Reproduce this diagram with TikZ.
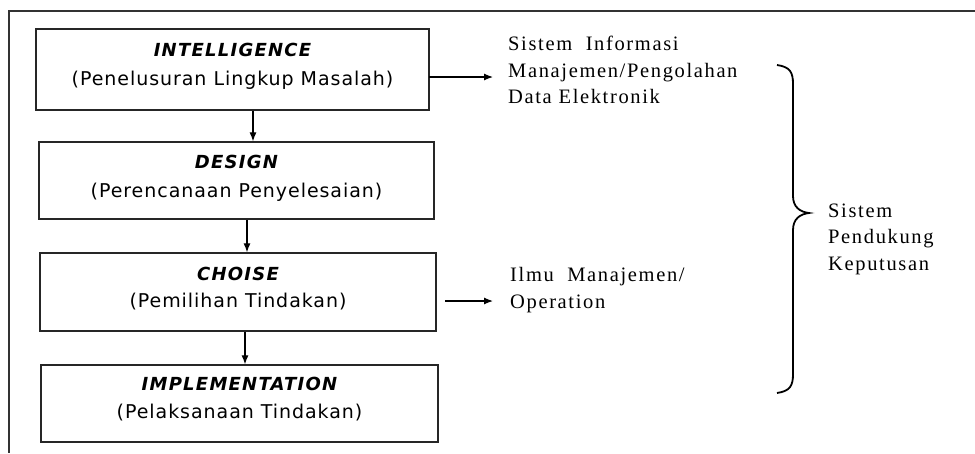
\documentclass[tikz,border=0pt]{standalone}
\usepackage{fontspec}
\setmainfont{Liberation Serif}
\newfontfamily\boxfont[LetterSpace=5]{DejaVu Sans}
\newfontfamily\ttlfont[LetterSpace=7]{DejaVu Sans}
\newfontfamily\sidefont[LetterSpace=8]{Liberation Serif}
\usetikzlibrary{arrows.meta}
\begin{document}
\begin{tikzpicture}[x=1pt,y=-1pt,
  stagebox/.style={draw=black!85,line width=1.3pt,minimum height=#1,inner sep=0pt,align=center},
  ttl/.style={font=\ttlfont\fontsize{18}{20}\selectfont\bfseries\itshape},
  sub/.style={font=\boxfont\fontsize{19}{20}\selectfont},
  side/.style={font=\sidefont\fontsize{20.5}{26.5}\selectfont,align=left,inner sep=0pt,anchor=west},
  arr/.style={line width=1.2pt,-{Latex[length=9pt,width=7pt]}}]
\useasboundingbox (0,0) rectangle (975,453);
\draw[line width=1.4pt,black!80] (975,11) -- (9,11) -- (9,453);

\node[stagebox=81pt,minimum width=393pt] (intel) at (232.5,69.5) {};
\node[stagebox=77pt,minimum width=395pt] (design) at (236.5,180.5) {};
\node[stagebox=78pt,minimum width=396pt] (choise) at (238,292) {};
\node[stagebox=77pt,minimum width=397pt] (impl) at (239.5,403.5) {};

\node[ttl] (t1) at (232.5,50) {INTELLIGENCE};
\node[sub] (s1) at (232.5,80) {(Penelusuran Lingkup Masalah)};
\node[ttl] (t2) at (236.5,162) {DESIGN};
\node[sub] (s2) at (236.5,192) {(Perencanaan Penyelesaian)};
\node[ttl] (t3) at (238,274) {CHOISE};
\node[sub] (s3) at (238,302) {(Pemilihan Tindakan)};
\node[ttl] (t4) at (239.5,384) {IMPLEMENTATION};
\node[sub] (s4) at (239.5,413) {(Pelaksanaan Tindakan)};

\coordinate (v1) at (253,0);
\coordinate (v2) at (247,0);
\coordinate (v3) at (245,0);
\draw[arr] (intel.south -| v1) -- (design.north -| v1);
\draw[arr] (design.south -| v2) -- (choise.north -| v2);
\draw[arr] (choise.south -| v3) -- (impl.north -| v3);

\node[side] (sim) at (508,70) {Sistem\ \ Informasi\\Manajemen/Pengolahan\\Data Elektronik};
\node[side] (ilmu) at (510,290) {Ilmu\ \ Manajemen/\\Operation};
\node[side] (spk) at (828,239) {Sistem\\Pendukung\\Keputusan};

\coordinate (a1s) at (429,77);
\coordinate (a1e) at (493,77);
\coordinate (a2s) at (445,301);
\coordinate (a2e) at (493,301);
\draw[arr] (a1s) -- (a1e);
\draw[arr] (a2s) -- (a2e);

\draw[line width=1.8pt] (777,65) .. controls (790,67) and (793,72) .. (793,84)
  -- (793,196) .. controls (793,207) and (800,212) .. (809,213)
  .. controls (800,214) and (793,219) .. (793,230)
  -- (793,374) .. controls (793,386) and (790,391) .. (777,393);
\end{tikzpicture}
\end{document}
